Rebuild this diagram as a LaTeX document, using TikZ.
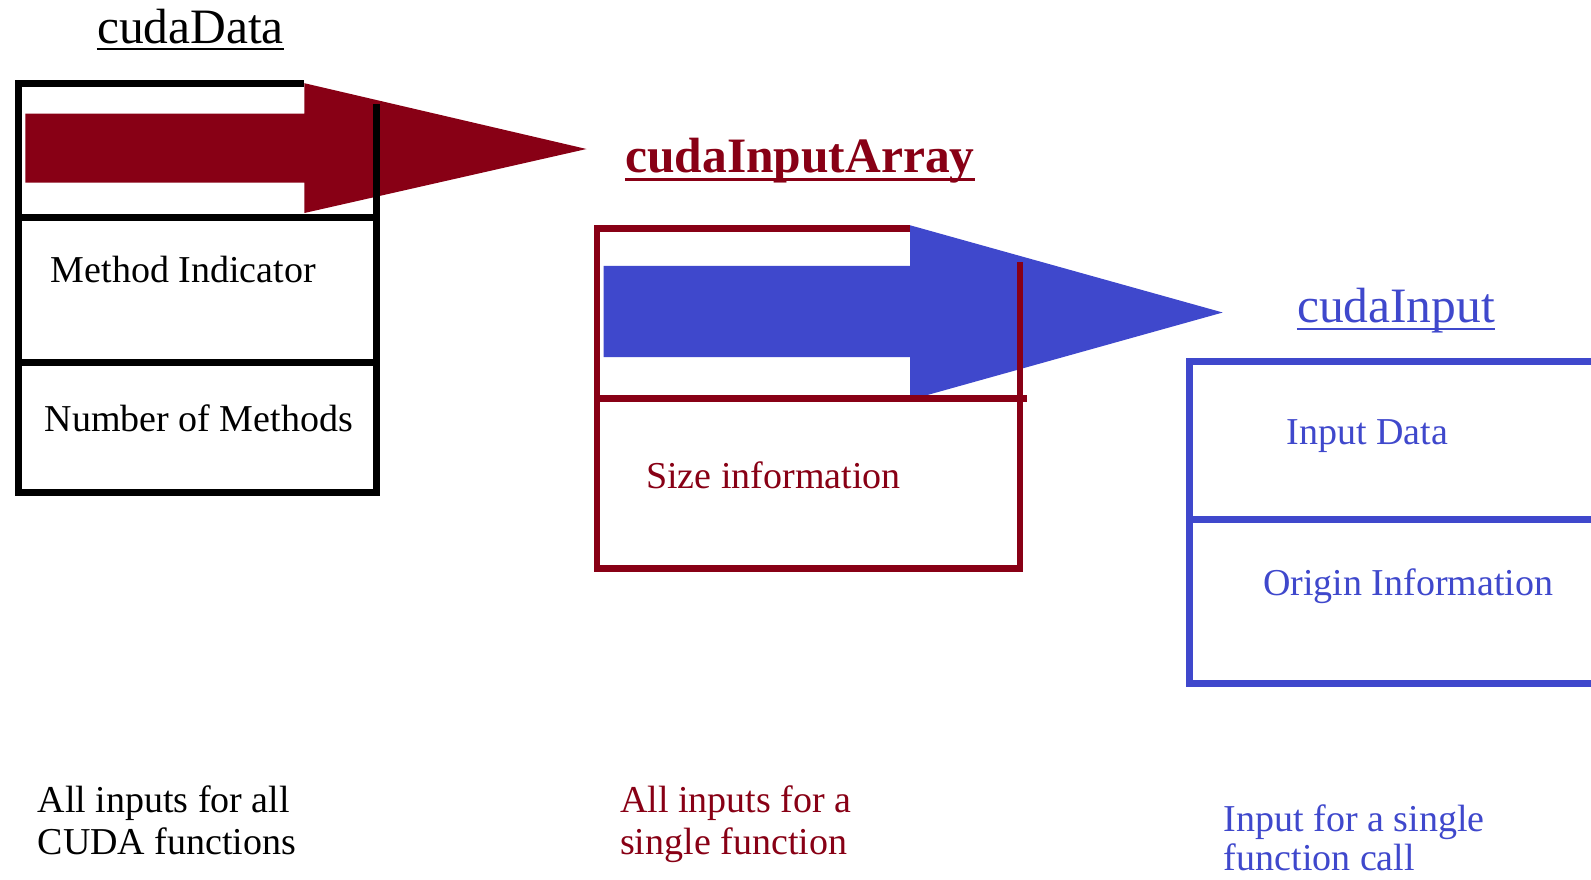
\documentclass[tikz,border=0pt]{standalone}
\usepackage{fontspec}
\setmainfont{Liberation Serif}
\definecolor{pdred}{HTML}{880015}
\definecolor{pdblue}{HTML}{3F48CC}
\begin{document}
\begin{tikzpicture}[x=1pt,y=-1pt,
  txt/.style={inner sep=0pt, anchor=base west, font=\fontsize{38}{43}\selectfont},
  ttl/.style={inner sep=0pt, anchor=base, font=\fontsize{49.5}{55}\selectfont},
  blkline/.style={draw=black, line width=7pt},
  redline/.style={draw=pdred, line width=6.5pt},
  blueline/.style={draw=pdblue, line width=7pt}]
\useasboundingbox (0,0) rectangle (1591,879);
\clip (0,0) rectangle (1591,879);
\fill[white] (0,0) rectangle (1591,879);

% ---------- red arrow ----------
\fill[pdred] (25.4,113.6) -- (304.4,113.6) -- (304.4,83.2) -- (586.5,149) -- (304.4,213) -- (304.4,182.6) -- (25.4,182.6) -- cycle;
% ---------- cudaData box ----------
\draw[blkline] (304.4,83.2) -- (18.3,83.2) -- (18.3,492) -- (376.5,492) -- (376.5,104);
\draw[blkline] (18.3,217) -- (376.5,217);
\draw[blkline] (18.3,362) -- (376.5,362);

% ---------- blue arrow ----------
\fill[pdblue] (603.7,265.9) -- (910.2,265.9) -- (910.2,225.3) -- (1222.7,312.5) -- (910.2,399.8) -- (910.2,357.2) -- (603.7,357.2) -- cycle;
% ---------- cudaInputArray box ----------
\draw[redline] (910.2,228.5) -- (597,228.5) -- (597,568.5) -- (1020,568.5) -- (1020,262);
\draw[redline] (597,398.5) -- (1027,398.5);

% ---------- cudaInput box ----------
\draw[blueline] (1640,361.5) -- (1189.5,361.5) -- (1189.5,683.5) -- (1640,683.5);
\draw[blueline] (1189.5,519) -- (1640,519);

% ---------- titles ----------
\node[ttl] (t1) at (190.5,43) {cudaData};
\draw[black, line width=2.5pt] ([yshift=-6pt]t1.base west) -- ([yshift=-6pt]t1.base east);
\node[ttl, text=pdred, font=\fontsize{49.5}{55}\selectfont\bfseries] (t2) at (800,172.5) {cudaInputArray};
\draw[pdred, line width=3.5pt] ([yshift=-7pt]t2.base west) -- ([yshift=-7pt]t2.base east);
\node[ttl, text=pdblue] (t3) at (1396,322) {cudaInput};
\draw[pdblue, line width=2.5pt] ([yshift=-7pt]t3.base west) -- ([yshift=-7pt]t3.base east);

% ---------- field labels ----------
\node[txt] (m1) at (50.7,282) {Method Indicator};
\node[txt] (m2) at (44.6,431) {Number of Methods};
\node[txt, text=pdred] (s1) at (646,488) {Size information};
\node[txt, text=pdblue] (i1) at (1286.6,444.4) {Input Data};
\node[txt, text=pdblue] (i2) at (1263,595.6) {Origin Information};

% ---------- bottom captions ----------
\node[txt] (c1a) at (37.5,812.8) {All inputs for all};
\node[txt] (c1b) at (37.5,854.4) {CUDA functions};
\node[txt, text=pdred] (c2a) at (620,812.8) {All inputs for a};
\node[txt, text=pdred] (c2b) at (620,854.4) {single function};
\node[txt, text=pdblue] (c3a) at (1223.7,831) {Input for a single};
\node[txt, text=pdblue] (c3b) at (1223.7,870.5) {function call};
\end{tikzpicture}
\end{document}
